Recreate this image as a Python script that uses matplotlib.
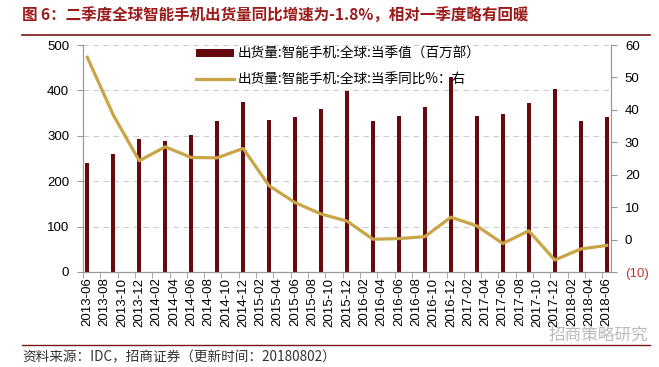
import numpy as np
import matplotlib
matplotlib.use("Agg")
import matplotlib.pyplot as plt
from matplotlib.ticker import FixedLocator

plt.rcParams['font.family'] = ['Liberation Sans', 'Noto Sans CJK SC', 'DejaVu Sans']

# 季度数据
quarters = ['2013-06', '2013-09', '2013-12', '2014-03', '2014-06', '2014-09', '2014-12',
            '2015-03', '2015-06', '2015-09', '2015-12', '2016-03', '2016-06', '2016-09',
            '2016-12', '2017-03', '2017-06', '2017-09', '2017-12', '2018-03', '2018-06']
shipments = [239, 261, 292, 288, 301, 332, 374, 334, 341, 358, 399,
             333, 343, 363, 429, 344, 348, 372, 402, 333, 341]
yoy = [56.2, 38.4, 24.3, 28.6, 25.3, 25.2, 28.1, 16.6, 11.4, 7.9, 5.7,
       0.1, 0.3, 0.9, 6.9, 4.2, -1.2, 2.7, -6.3, -2.9, -1.8]

# 横轴标签（每两个月）
month_labels = []
for y in range(2013, 2019):
    for m in range(2, 13, 2):
        s = '%d-%02d' % (y, m)
        if '2013-06' <= s <= '2018-06':
            month_labels.append(s)

def month_idx(s):
    y, m = s.split('-')
    return (int(y) - 2013) * 12 + int(m) - 6

xq = np.array([month_idx(q) for q in quarters])
xl = np.array([month_idx(s) for s in month_labels])

bar_color = '#650b0f'
line_color = '#c9a548'
red = '#9b1b1b'

fig = plt.figure(figsize=(6.59, 3.67), dpi=100)
ax = fig.add_axes([83 / 659, 1 - 272 / 367, 528 / 659, 227 / 367])
ax2 = ax.twinx()

b = ax.bar(xq, shipments, width=0.5, color=bar_color, zorder=3,
           label='出货量:智能手机:全球:当季值（百万部）')
l, = ax2.plot(xq, yoy, color=line_color, lw=2.3, zorder=4,
              label='出货量:智能手机:全球:当季同比%：右')

ax.set_xlim(-0.5, 60.5)
ax.set_ylim(0, 500)
ax.set_yticks(range(0, 501, 100))
ax2.set_ylim(-10, 60)
ax2.set_yticks(range(-10, 61, 10))
ax2.set_yticklabels(['(10)'] + [str(v) for v in range(0, 61, 10)])
ax2.get_yticklabels()[0].set_color('#c0392b')

ax.set_xticks(xl)
ax.set_xticklabels(month_labels, rotation=90, fontsize=9.5)
ax.tick_params(axis='x', length=0, pad=4)
ax.xaxis.set_minor_locator(FixedLocator(np.arange(-0.5, 61, 2)))
ax.tick_params(axis='x', which='minor', length=4, color='#999999')
ax.tick_params(axis='y', labelsize=9.5, length=4, color='#999999', pad=6)
ax2.tick_params(axis='y', labelsize=9.5, length=4, color='#999999', pad=6)

ax.yaxis.grid(True, ls=(0, (5, 4)), color='#cccccc', lw=0.8, zorder=0)
for a in (ax, ax2):
    a.spines['top'].set_visible(False)
    for s in ('left', 'right', 'bottom'):
        a.spines[s].set_color('#999999')
ax.set_zorder(ax2.get_zorder() - 1)
ax2.patch.set_visible(False)

leg = ax2.legend([b, l], [b.get_label(), l.get_label()], loc='upper left',
                 bbox_to_anchor=(0.19, 1.045), frameon=False,
                 prop={'family': ['Noto Sans CJK SC'], 'size': 9.8},
                 handlelength=2.8, handleheight=0.5, labelspacing=0.85, handletextpad=0.3)

# 标题与边框线
fig.text(22 / 659, 1 - 16 / 367, '图 6：二季度全球智能手机出货量同比增速为-1.8%，相对一季度略有回暖',
         color=red, fontsize=11.2, fontweight='bold', va='center',
         family=['Noto Sans CJK SC', 'DejaVu Sans'])
fig.add_artist(plt.Line2D([22 / 659, 650 / 659], [1 - 35 / 367] * 2, color='#7a1515', lw=1.2))
fig.add_artist(plt.Line2D([22 / 659, 650 / 659], [1 - 345 / 367] * 2, color='#7a1515', lw=1.0))
fig.text(22 / 659, 1 - 357 / 367, '资料来源：IDC，招商证券（更新时间：20180802）',
         color='#333333', fontsize=9.8, va='center',
         family=['Noto Sans CJK SC', 'DejaVu Sans'])
fig.text(648 / 659, 1 - 335 / 367, '招商策略研究', color='#bbbbbb', fontsize=12,
         ha='right', va='center', family=['Noto Sans CJK SC'])

fig.savefig('out.png', dpi=100)
